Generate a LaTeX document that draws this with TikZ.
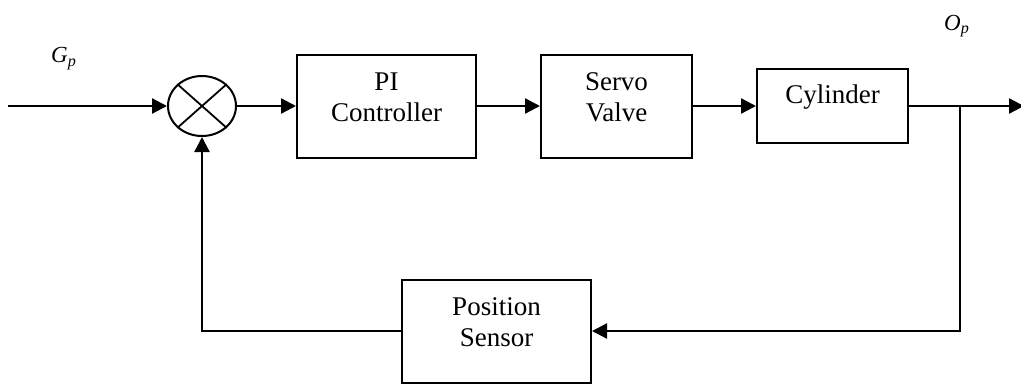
\documentclass[tikz,border=0pt]{standalone}
\usepackage{fontspec}
\setmainfont{Liberation Serif}
\usetikzlibrary{arrows.meta,shapes.geometric}
\begin{document}
\begin{tikzpicture}[x=1pt,y=-1pt,
  line width=2.3pt,
  block/.style={draw, line width=2pt, inner sep=0pt},
  blocktext/.style={yshift=9pt, align=center, inner sep=0pt,
    font=\fontsize{27}{31}\selectfont},
  sig/.style={-{Triangle[length=15pt,width=15pt]}},
  lbl/.style={inner sep=0pt, font=\fontsize{23}{27}\selectfont\itshape},
  ]
\useasboundingbox (0,0) rectangle (1021,384);

% summing junction
\node[draw, ellipse, line width=2pt, minimum width=68pt, minimum height=60pt, inner sep=0pt] (sum) at (202,106) {};
\draw[line width=1.8pt] (sum.north west) -- (sum.south east)
                        (sum.north east) -- (sum.south west);

% forward path blocks
\node[block, minimum width=179pt, minimum height=103pt,
  label={[blocktext]center:PI\\Controller}] (pi) at (386.5,106) {};
\node[block, minimum width=151pt, minimum height=103pt,
  label={[blocktext]center:Servo\\Valve}] (servo) at (616.5,106) {};
\node[block, minimum width=151pt, minimum height=74pt,
  label={[blocktext]center:Cylinder}] (cyl) at (832.5,106) {};

% feedback block
\node[block, minimum width=189pt, minimum height=103pt,
  label={[blocktext]center:Position\\Sensor}] (pos) at (496.5,331) {};

% signal labels
\node[lbl, anchor=base west] (gp) at (50,62.7) {G\textsubscript{p}};
\node[lbl, anchor=base west] (op) at (943,30) {O\textsubscript{p}};

% terminals and branch point
\coordinate (in) at (8,106);
\coordinate (out) at (1024,106);
\coordinate (br) at (960,106);

% connectors
\draw[sig] (in) -- (sum.west);
\draw[sig] (sum.east) -- (pi.west);
\draw[sig] (pi.east) -- (servo.west);
\draw[sig] (servo.east) -- (cyl.west);
\draw[sig] (cyl.east) -- (out);
\draw[sig] (br) |- (pos.east);
\draw[sig] (pos.west) -| (sum.south);
\end{tikzpicture}
\end{document}
